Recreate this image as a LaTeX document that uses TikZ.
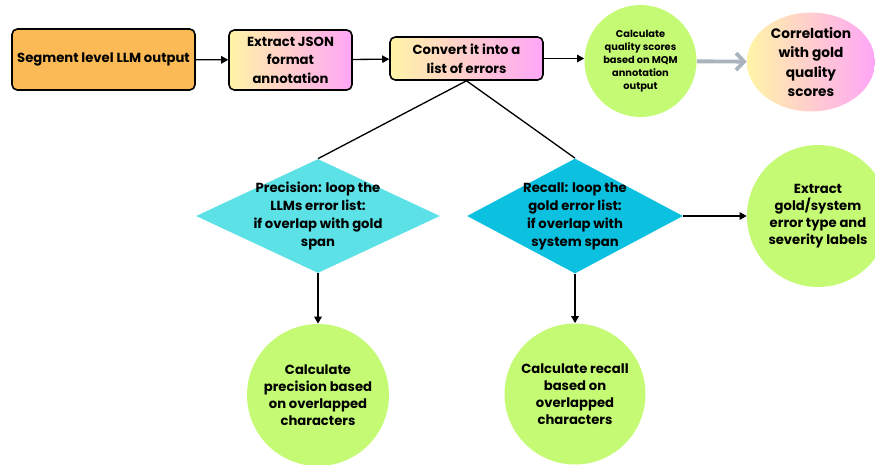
\documentclass[tikz,border=0pt]{standalone}
\usepackage{fontspec}
\setmainfont{Poppins}
\usetikzlibrary{arrows.meta,positioning,calc,shapes.geometric}
\definecolor{amber}{HTML}{FBBA55}
\definecolor{lime}{HTML}{C5FB74}
\definecolor{aqua}{HTML}{5CE1E6}
\definecolor{ocean}{HTML}{0CC0DF}
\definecolor{butter}{HTML}{FFF4A6}
\definecolor{orchid}{HTML}{FFA6F7}
\definecolor{slate}{HTML}{A9B4BF}
\tikzset{stage/.style={draw=black,line width=0.9pt,rounded corners=3pt,align=center,font=\fontsize{7.5}{10.6}\selectfont\bfseries,inner sep=2pt}, fade/.style={left color=butter,right color=orchid}, blob/.style={circle,fill=lime,align=center,inner sep=0pt,font=\fontsize{7.5}{9.6}\selectfont\bfseries}, choice/.style={diamond,inner sep=0pt,aspect=2.1}, tag/.style={align=center,font=\fontsize{7.5}{10.2}\selectfont\bfseries}, flow/.style={-{Triangle[length=1.4mm,width=1.5mm]},line width=0.75pt}}

\begin{document}
\begin{tikzpicture}[x=0.02cm,y=-0.02cm]
\useasboundingbox (0,0) rectangle (875,464);
\node[stage,fill=amber,minimum width=3.66cm,minimum height=1.22cm] (a) at (103.5,59.5) {Segment level LLM output};
\node[stage,fade,minimum width=2.46cm,minimum height=1.2cm] (b) at (290.5,60) {Extract JSON\\format\\annotation};
\node[stage,fade,minimum width=3.06cm,minimum height=0.86cm] (c) at (466.5,58.5) {Convert it into a\\list of errors};
\node[blob,minimum size=2.24cm,font=\fontsize{5.6}{7.4}\selectfont\bfseries] (d) at (640.5,61) {Calculate\\quality scores\\based on MQM\\annotation\\output};
\node[ellipse,fade,minimum width=2.56cm,minimum height=1.98cm,label={[tag,font=\fontsize{7.8}{10.9}\selectfont\bfseries]center:Correlation\\with gold\\quality\\scores}] (e) at (811,62) {};
\node[choice,fill=aqua,minimum width=4.88cm,minimum height=2.28cm,label={[tag]center:Precision: loop the\\LLMs error list:\\if overlap with gold\\span}] (p) at (318,216) {};
\node[choice,fill=ocean,minimum width=4.32cm,minimum height=2.3cm,label={[tag]center:Recall: loop the\\gold error list:\\if overlap with\\system span}] (r) at (575,216) {};
\node[blob,minimum size=2.84cm] (x) at (818,216) {Extract\\gold/system\\error type and\\severity labels};
\node[blob,minimum size=2.84cm] (f) at (318,395) {Calculate\\precision based\\on overlapped\\characters};
\node[blob,minimum size=2.82cm] (g) at (575,394) {Calculate recall\\based on\\overlapped\\characters};
\draw[flow] (a)--(b);
\draw[flow] (b)--(c);
\draw[flow] (c.east)--(d.west |- c.east);
\draw[-{Straight Barb[length=1.6mm,width=3.4mm]},line width=2.2pt,draw=slate] (d)--(e);
\draw[line width=0.75pt] (c.south)--(p.north);
\draw[line width=0.75pt] (c.south)--(r.north);
\draw[flow] (r)--(x);
\draw[flow] (p)--(f);
\draw[flow] (r)--(g);
\end{tikzpicture}
\end{document}
